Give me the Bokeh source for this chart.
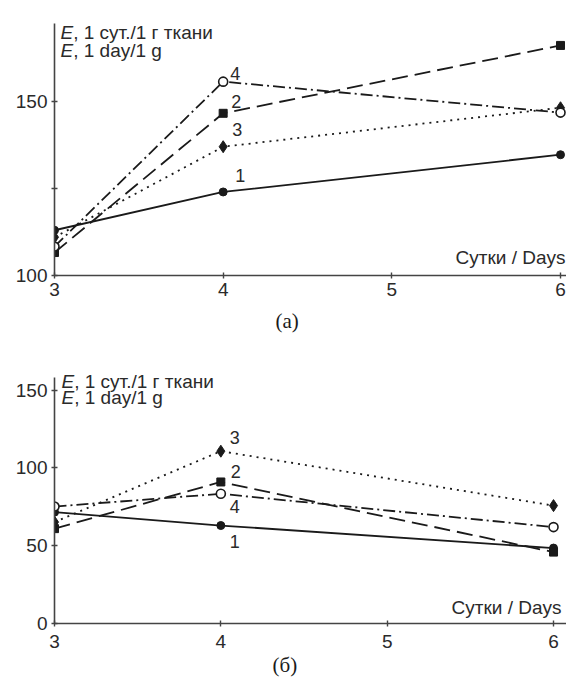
from bokeh.plotting import figure
from bokeh.models import Range1d, FixedTicker, Label, Title
from bokeh.layouts import column
from bokeh.embed import file_html
from bokeh.resources import INLINE

# ---- data ----
days = [3, 4, 6]
x_ticks = [3, 4, 5, 6]

a_s1 = [113.0, 124.0, 134.7]
a_s2 = [106.6, 146.6, 166.1]
a_s3 = [111.0, 137.0, 148.2]
a_s4 = [108.3, 155.7, 146.8]
a_yticks = [100, 125, 150]
a_axis = (100, 172.4)

b_s1 = [71.6, 63.0, 48.5]
b_s2 = [61.0, 91.0, 45.9]
b_s3 = [65.2, 110.8, 75.8]
b_s4 = [75.2, 83.4, 62.0]
b_yticks = [0, 50, 100, 150]
b_axis = (0, 158.2)

series_names = ["1", "2", "3", "4"]
y_title_ru = ", 1 сут./1 г ткани"
y_title_en = ", 1 day/1 g"
x_title = "Сутки / Days"

INK = "#1a1a1a"
AX = "#444444"
TXT = "#2a2a2a"
SANS = "Liberation Sans"
SERIF = "Liberation Serif"

dashes = ["solid", "16 7", "2 5", "12 4 2 4"]


def make_panel(series, yticks, axis_span, y_hi, x_hi, width, height, borders,
               label_offsets, caption, caption_offset, ylab_off, xlab_off,
               tick_label_map, x_standoff, cap_standoff):
    y_lo, y_top = axis_span
    left, right, top, bottom = borders
    p = figure(width=width, height=height, output_backend="svg",
               toolbar_location=None,
               x_range=Range1d(3, x_hi), y_range=Range1d(y_lo, y_hi),
               min_border_left=left, min_border_right=right,
               min_border_top=top, min_border_bottom=bottom)
    p.outline_line_color = None
    p.grid.visible = False
    p.background_fill_color = "white"
    p.border_fill_color = "white"

    for ax in (p.xaxis[0], p.yaxis[0]):
        ax.axis_line_color = AX
        ax.axis_line_width = 1.6
        ax.major_tick_line_color = AX
        ax.major_tick_line_width = 1.4
        ax.major_tick_in = 3
        ax.major_tick_out = 3
        ax.minor_tick_line_color = None
        ax.major_label_text_font = SANS
        ax.major_label_text_font_size = "19px"
        ax.major_label_text_color = TXT
    p.xaxis.ticker = FixedTicker(ticks=x_ticks)
    p.yaxis.ticker = FixedTicker(ticks=yticks)
    p.yaxis.bounds = axis_span
    p.yaxis.major_label_overrides = tick_label_map
    p.xaxis.major_label_standoff = x_standoff
    p.yaxis.major_label_standoff = 4

    # lines
    for ys, dash in zip(series, dashes):
        p.line(days, ys, line_color=INK, line_width=1.8, line_dash=dash)
    # markers
    p.scatter(days, series[0], marker="circle", size=8, fill_color=INK, line_color=INK)
    p.scatter(days, series[1], marker="square", size=8, fill_color=INK, line_color=INK)
    p.scatter(days, series[2], marker="diamond", size=12, fill_color=INK, line_color=INK)
    p.scatter(days, series[3], marker="circle", size=9, fill_color="white",
              line_color=INK, line_width=1.6)

    # series number labels at day 4
    for name, ys, (dx, dy) in zip(series_names, series, label_offsets):
        p.add_layout(Label(x=days[1], y=ys[1], text=name, x_offset=dx, y_offset=dy,
                           text_align="center", text_baseline="middle",
                           text_font=SANS, text_font_size="18px", text_color=TXT))

    # y-axis title (two lines, italic E)
    xo, y1, y2 = ylab_off
    for yo, rest in ((y1, y_title_ru), (y2, y_title_en)):
        p.add_layout(Label(x=3, y=y_top, text="E", x_offset=xo, y_offset=yo,
                           text_font=SANS, text_font_style="italic",
                           text_font_size="19px", text_baseline="alphabetic",
                           text_color=TXT))
        p.add_layout(Label(x=3, y=y_top, text=rest, x_offset=xo + 12.7, y_offset=yo,
                           text_font=SANS, text_font_size="19px",
                           text_baseline="alphabetic", text_color=TXT))

    # x-axis title
    xdx, xdy = xlab_off
    p.add_layout(Label(x=6, y=y_lo, text=x_title, x_offset=xdx, y_offset=xdy,
                       text_align="right", text_baseline="middle",
                       text_font=SANS, text_font_size="19px", text_color=TXT))

    # caption below the axis
    p.add_layout(Title(text=caption, align="left", offset=caption_offset,
                       standoff=cap_standoff, text_font=SERIF,
                       text_font_style="normal", text_font_size="21px",
                       text_color=INK), "below")
    return p


p1 = make_panel([a_s1, a_s2, a_s3, a_s4], a_yticks, a_axis, 174.7, 6.0355,
                566, 340, (51, 0, 15, 65),
                [(17, 16), (13, 12), (14, 17), (12, 8)],
                "(а)", 221, (6, -9, -27), (5, 18), {125: ""}, 4, 16)

p2 = make_panel([b_s1, b_s2, b_s3, b_s4], b_yticks, b_axis, 165.9, 6.078,
                566, 338, (54, 0, 25, 55),
                [(14, -16), (15, 10), (14, 14), (14, -13)],
                "(б)", 218, (7, -4, -20), (8, 16), {}, 8, 0)

layout = column(p1, p2, spacing=0)
open("out.html", "w").write(file_html(layout, INLINE))
